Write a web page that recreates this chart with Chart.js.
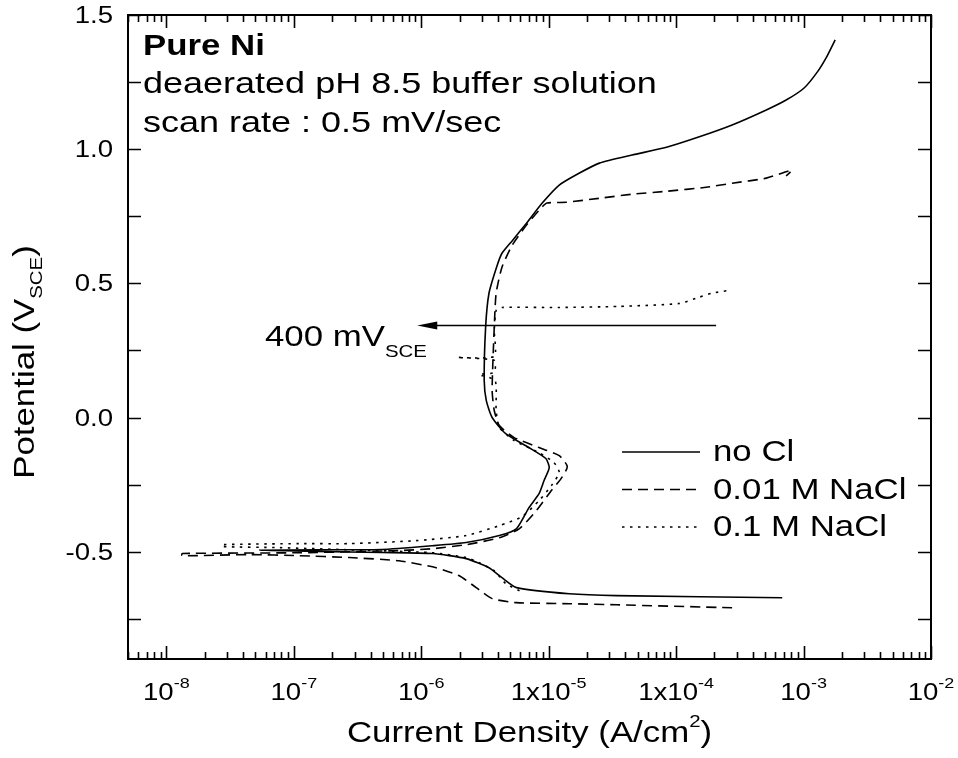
<!DOCTYPE html>
<html>
<head>
<meta charset="utf-8">
<script src="https://cdn.jsdelivr.net/npm/chart.js@4.4.1/dist/chart.umd.min.js"></script>
<style>
  html, body { margin: 0; padding: 0; background: #fff; }
  #wrap { width: 958px; height: 758px; }
</style>
</head>
<body>
<div id="wrap"><canvas id="polChart" width="958" height="758"></canvas></div>
<script>
// polarization curves, current density (A/cm2) vs potential (V_SCE)
var noClX = [6.8e-4, 3.4e-5, 1.45e-5, 5.6e-6, 4.3e-6, 3.4e-6, 2.25e-6, 1.22e-6, 4.9e-7, 1.5e-7, 5.4e-8,
  1.5e-7, 4.9e-7, 1.22e-6, 2.25e-6, 4.1e-6, 5.6e-6, 7.0e-6, 8.4e-6, 9.2e-6, 1.01e-5, 9.5e-6, 7.0e-6,
  4.6e-6, 3.6e-6, 3.24e-6, 3.12e-6, 3.2e-6, 3.4e-6, 3.9e-6, 4.3e-6, 5.2e-6, 6.7e-6, 8.9e-6, 1.21e-5,
  1.73e-5, 2.5e-5, 4.5e-5, 8.4e-5, 1.5e-4, 2.75e-4, 5.1e-4, 7.3e-4, 1.01e-3, 1.28e-3, 1.53e-3, 1.77e-3];
var noClY = [-0.672, -0.664, -0.657, -0.634, -0.597, -0.560, -0.526, -0.507, -0.503, -0.499, -0.495,
  -0.493, -0.492, -0.478, -0.466, -0.440, -0.414, -0.336, -0.284, -0.235, -0.187, -0.153, -0.112,
  -0.060, 0.0, 0.063, 0.138, 0.336, 0.463, 0.560, 0.612, 0.660, 0.724, 0.799, 0.866,
  0.910, 0.948, 0.978, 1.007, 1.045, 1.090, 1.146, 1.183, 1.228, 1.287, 1.347, 1.407];

var nacl001X = [2.75e-4, 3.4e-5, 1.45e-5, 5.6e-6, 3.6e-6, 2.7e-6, 1.99e-6, 1.31e-6, 6.7e-7, 2.72e-7, 1.1e-7, 4.5e-8, 1.33e-8,
  1.33e-8, 1.1e-7, 6.7e-7, 1.22e-6, 2.25e-6, 4.1e-6, 5.9e-6, 8.0e-6, 1.05e-5, 1.25e-5, 1.4e-5, 1.21e-5, 8.4e-6,
  5.36e-6, 4.1e-6, 3.74e-6, 3.6e-6, 3.74e-6, 3.87e-6, 4.3e-6, 5.17e-6, 6.67e-6, 8.4e-6, 9.7e-6,
  1.37e-5, 2.5e-5, 4.5e-5, 8.4e-5, 1.72e-4, 2.75e-4, 5.1e-4, 8.1e-4, 7.3e-4];
var nacl001Y = [-0.709, -0.698, -0.694, -0.690, -0.675, -0.634, -0.590, -0.560, -0.534, -0.522, -0.515, -0.511, -0.515,
  -0.507, -0.504, -0.496, -0.489, -0.474, -0.448, -0.414, -0.347, -0.272, -0.228, -0.183, -0.142, -0.112,
  -0.075, -0.030, 0.026, 0.101, 0.336, 0.463, 0.560, 0.642, 0.716, 0.772, 0.799,
  0.802, 0.817, 0.832, 0.843, 0.858, 0.873, 0.892, 0.922, 0.900];

var nacl01X = [5.9e-6, 4.6e-6, 3.74e-6, 2.85e-6, 2.25e-6, 1.22e-6, 2.72e-7, 7.7e-8, 2.75e-8,
  2.75e-8, 1.1e-7, 2.7e-7, 9.1e-7, 2.25e-6, 4.1e-6, 6.2e-6, 8.4e-6, 1.05e-5, 1.21e-5, 1.1e-5, 8.4e-6,
  5.36e-6, 4.1e-6, 3.87e-6, 3.8e-6, 2.85e-6, 3.74e-6, 3.74e-6, 1.91e-6, 3.74e-6, 3.74e-6, 3.87e-6,
  4.3e-6, 1.21e-5, 3.57e-5, 1.06e-4, 1.51e-4, 1.91e-4, 2.6e-4];
var nacl01Y = [-0.646, -0.619, -0.571, -0.541, -0.522, -0.504, -0.493, -0.485, -0.481,
  -0.474, -0.470, -0.470, -0.459, -0.440, -0.403, -0.369, -0.310, -0.254, -0.205, -0.168, -0.131,
  -0.086, -0.037, 0.026, 0.138, 0.160, 0.168, 0.213, 0.224, 0.228, 0.325, 0.399,
  0.410, 0.410, 0.414, 0.425, 0.448, 0.463, 0.474];

var seriesLabels = ["no Cl", "0.01 M NaCl", "0.1 M NaCl"];
var xMajor = [1e-8, 1e-7, 1e-6, 1e-5, 1e-4, 1e-3, 1e-2];
var xTickBase = ["10", "10", "10", "1x10", "1x10", "10", "10"];
var xTickExp = ["-8", "-7", "-6", "-5", "-4", "-3", "-2"];
var yMajor = [-0.5, 0.0, 0.5, 1.0, 1.5];
var yMinor = [-0.75, -0.25, 0.25, 0.75, 1.25];
var arrowX = [2.06e-4, 9.3e-7];
var arrowY = 0.343;

function pts(xs, ys) {
  return xs.map(function (x, i) { return { x: x, y: ys[i] }; });
}

var FONT = '"Liberation Sans", Arial, Helvetica, sans-serif';
var SX = 1.2;

// draws a run of text pieces (base, sub, sup) stretched a bit horizontally
function rich(ctx, parts, x, y, align, rot) {
  ctx.save();
  ctx.translate(x, y);
  if (rot) ctx.rotate(rot);
  ctx.scale(SX, 1);
  var total = 0;
  parts.forEach(function (p) {
    ctx.font = (p.bold ? 'bold ' : '') + p.size + 'px ' + FONT;
    p.w = ctx.measureText(p.t).width;
    total += p.w;
  });
  var cx = 0;
  if (align === 'center') cx = -total / 2;
  else if (align === 'right') cx = -total;
  ctx.fillStyle = '#000';
  ctx.textBaseline = 'alphabetic';
  parts.forEach(function (p) {
    ctx.font = (p.bold ? 'bold ' : '') + p.size + 'px ' + FONT;
    ctx.fillText(p.t, cx, p.dy || 0);
    cx += p.w;
  });
  ctx.restore();
}

var frameAndText = {
  id: 'frameAndText',
  afterDraw: function (chart) {
    var ctx = chart.ctx;
    var a = chart.chartArea;
    var xs = chart.scales.x, ys = chart.scales.y;
    ctx.save();
    ctx.strokeStyle = '#000';
    ctx.lineWidth = 2;
    ctx.strokeRect(a.left, a.top, a.right - a.left, a.bottom - a.top);

    // log ticks, pointing inward on bottom and top
    ctx.lineWidth = 1.6;
    ctx.beginPath();
    for (var e = -9; e <= -2; e++) {
      for (var k = 1; k <= 9; k++) {
        var v = k * Math.pow(10, e);
        if (v < xs.min * 0.999 || v > xs.max * 1.001) continue;
        var px = Math.round(xs.getPixelForValue(v)) + 0.5;
        var len = k === 1 ? 13 : 7;
        ctx.moveTo(px, a.bottom); ctx.lineTo(px, a.bottom - len);
        ctx.moveTo(px, a.top); ctx.lineTo(px, a.top + len);
      }
    }
    yMajor.concat(yMinor).forEach(function (v) {
      var py = Math.round(ys.getPixelForValue(v)) + 0.5;
      ctx.moveTo(a.left, py); ctx.lineTo(a.left + 13, py);
      ctx.moveTo(a.right, py); ctx.lineTo(a.right - 13, py);
    });
    ctx.stroke();

    // tick labels
    xMajor.forEach(function (v, i) {
      var px = xs.getPixelForValue(v);
      rich(ctx, [{ t: xTickBase[i], size: 23 }, { t: xTickExp[i], size: 15, dy: -12 }], px, 700, 'center');
    });
    yMajor.forEach(function (v) {
      var py = ys.getPixelForValue(v);
      rich(ctx, [{ t: v.toFixed(1), size: 23 }], 113, py + 8, 'right');
    });

    // axis titles
    rich(ctx, [{ t: 'Current Density (A/cm', size: 29 }, { t: '2', size: 17, dy: -15 }, { t: ')', size: 29 }],
      a.left + (a.right - a.left) / 2, 742, 'center');
    rich(ctx, [{ t: 'Potential (V', size: 29 }, { t: 'SCE', size: 17, dy: 8 }, { t: ')', size: 29 }],
      34, 362, 'center', -Math.PI / 2);

    // annotations
    rich(ctx, [{ t: 'Pure Ni', size: 29, bold: true }], 143, 55, 'left');
    rich(ctx, [{ t: 'deaerated pH 8.5 buffer solution', size: 30 }], 143, 93, 'left');
    rich(ctx, [{ t: 'scan rate : 0.5 mV/sec', size: 30 }], 143, 132, 'left');

    // arrow marking 400 mV
    var ax0 = xs.getPixelForValue(arrowX[0]), ax1 = xs.getPixelForValue(arrowX[1]);
    var ay = ys.getPixelForValue(arrowY);
    ctx.lineWidth = 1.6;
    ctx.beginPath();
    ctx.moveTo(ax0, ay); ctx.lineTo(ax1 + 10, ay);
    ctx.stroke();
    ctx.beginPath();
    ctx.moveTo(ax1, ay); ctx.lineTo(ax1 + 20, ay - 4); ctx.lineTo(ax1 + 20, ay + 4);
    ctx.closePath();
    ctx.fillStyle = '#000';
    ctx.fill();
    rich(ctx, [{ t: '400 mV', size: 29 }, { t: 'SCE', size: 17, dy: 11 }], 265, ay + 21, 'left');

    // legend inside plot
    chart.data.datasets.forEach(function (ds, i) {
      var ly = 452 + i * 37.5;
      ctx.save();
      ctx.lineWidth = 1.5;
      ctx.setLineDash(ds.borderDash || []);
      ctx.beginPath();
      ctx.moveTo(622, ly); ctx.lineTo(700, ly);
      ctx.stroke();
      ctx.restore();
      rich(ctx, [{ t: ds.label, size: 29 }], 713, ly + 9, 'left');
    });
    ctx.restore();
  }
};

var ctx = document.getElementById("polChart");
var myChart = new Chart(ctx, {
  type: "scatter",
  data: {
    datasets: [{
      label: seriesLabels[0],
      data: pts(noClX, noClY),
      borderColor: "#000",
      borderWidth: 1.6,
      borderDash: [],
      showLine: true,
      pointRadius: 0,
      tension: 0.2
    }, {
      label: seriesLabels[1],
      data: pts(nacl001X, nacl001Y),
      borderColor: "#000",
      borderWidth: 1.6,
      borderDash: [10, 6],
      showLine: true,
      pointRadius: 0,
      tension: 0.2
    }, {
      label: seriesLabels[2],
      data: pts(nacl01X, nacl01Y),
      borderColor: "#000",
      borderWidth: 1.6,
      borderDash: [2.5, 5.5],
      showLine: true,
      pointRadius: 0,
      tension: 0.2
    }]
  },
  options: {
    responsive: false,
    animation: false,
    layout: { padding: { left: 128, right: 27, top: 15, bottom: 99 } },
    plugins: {
      legend: { display: false },
      tooltip: { enabled: false },
      title: { display: false }
    },
    scales: {
      x: { type: "logarithmic", min: 5e-9, max: 1e-2, display: false },
      y: { type: "linear", min: -0.9, max: 1.5, display: false }
    }
  },
  plugins: [frameAndText]
});
</script>
</body>
</html>
